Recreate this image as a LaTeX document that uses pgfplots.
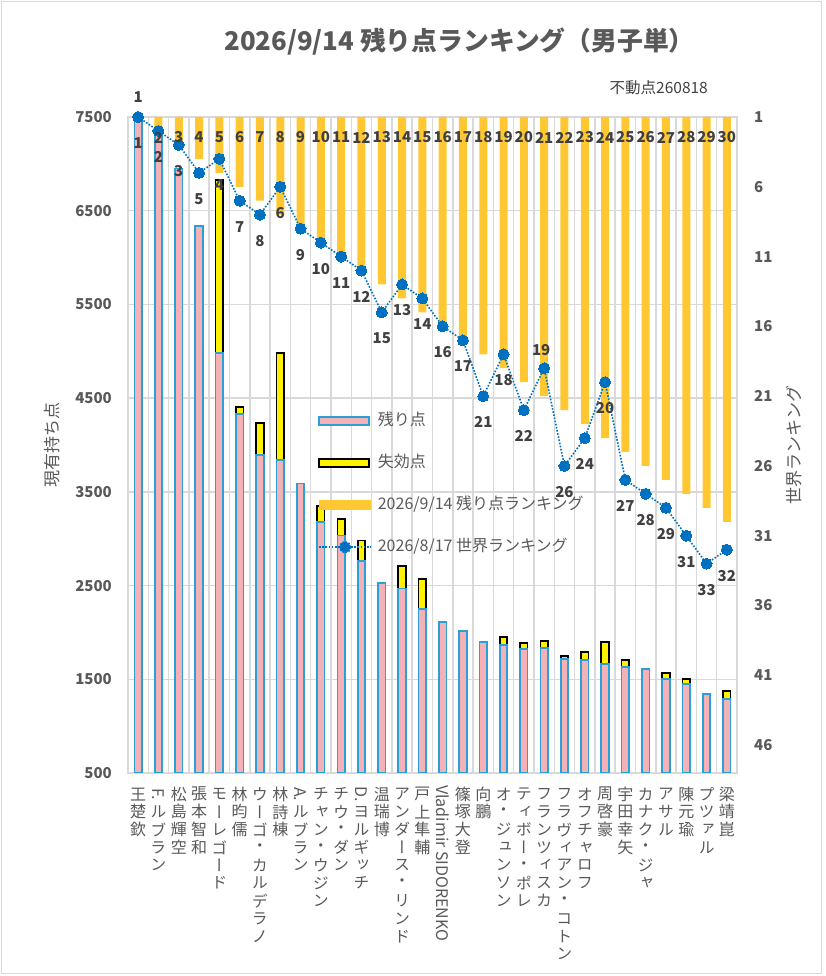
\documentclass[border=0pt]{standalone}
\usepackage{fontspec}
\usepackage{graphicx}
\usepackage{pgfplots}
\pgfplotsset{compat=1.18}
\usepackage{pgfplotstable}
\setmainfont{Noto Sans CJK JP}
\newfontfamily\vjp[RawFeature=+vert]{Noto Sans CJK JP}
\newcommand\fs[1]{\fontsize{#1}{#1}\selectfont}

\definecolor{gridc}{HTML}{D9D9D9}
\definecolor{txt}{HTML}{595959}
\definecolor{lab}{HTML}{404040}
\definecolor{pinkc}{HTML}{F4B1B6}
\definecolor{bluec}{HTML}{2B9FD9}
\definecolor{orangec}{HTML}{FFC832}
\definecolor{dotc}{HTML}{0070C0}

% vertical (tategaki) tick labels
\makeatletter
\def\vtend{\vtend@}
\newcommand\vc[1]{\setbox0\hbox{#1}\dimen0=\ht0 \advance\dimen0 by \dp0
  \ifdim\dimen0>17.8pt \hbox to 18pt{\hss\box0\hss}%
  \else\hbox to 18pt{\hss\vbox to 17.8pt{\vss\box0\vss}\hss}\fi}
\def\vt#1{\def\vt@tmp{#1}\ifx\vt@tmp\vtend\else\vc{#1}\expandafter\vt\fi}
\newcommand\vlab[1]{\vbox{\offinterlineskip\vjp\fs{16}\vt#1\vtend@}}
\makeatother
\newcommand\rl[1]{\rotatebox[origin=c]{-90}{#1}}

% players without lost points
\pgfplotstableread{
x pink
1 7490
2 7350
3 6950
4 6340
9 3590
13 2530
16 2110
17 2015
18 1900
26 1610
29 1343
}\tblA

% players with lost points (remaining, lost)
\pgfplotstableread{
x pink loss
5 4980 1850
6 4330 75
7 3890 344
8 3840 1141
10 3180 170
11 3035 175
12 2760 220
14 2470 238
15 2250 320
19 1866 85
20 1823 64
21 1834 75
22 1716 32
23 1705 85
24 1662 236
25 1631 74
27 1503 64
28 1450 53
30 1290 85
}\tblB

% x, remaining-points ranking, world ranking, label offsets
\pgfplotstableread{
x r w ly dx dy
1 1 1 -0.43 0 -26
2 2 2 2.47 0 -26
3 3 3 2.47 0 -26
4 4 5 2.47 0 -26
5 5 4 2.47 0 -26
6 6 7 2.47 0 -26
7 7 8 2.47 0 -26
8 8 6 2.47 0 -26
9 9 9 2.47 0 -26
10 10 10 2.47 0 -26
11 11 11 2.47 0 -26
12 12 12 2.47 0 -26
13 13 15 2.47 0 -26
14 14 13 2.47 0 -26
15 15 14 2.47 0 -26
16 16 16 2.47 0 -26
17 17 17 2.47 0 -26
18 18 21 2.47 0 -26
19 19 18 2.47 0 -26
20 20 22 2.47 0 -26
21 21 19 2.47 -3 18
22 22 26 2.47 0 -26
23 23 24 2.47 0 -26
24 24 20 2.47 0 -26
25 25 27 2.47 0 -26
26 26 28 2.47 0 -26
27 27 29 2.47 0 -26
28 28 31 2.47 0 -26
29 29 33 2.47 0 -26
30 30 32 2.47 0 -26
}\tblC

\pgfplotsset{base/.style={width=609pt, height=656pt, scale only axis,
  at={(128pt,203pt)}, anchor=south west, xmin=0.5, xmax=30.5,
  /pgf/number format/assume math mode=true,
  /pgf/number format/1000 sep={}, scaled y ticks=false}}

\begin{document}
\begin{tikzpicture}[x=1pt,y=1pt]
\useasboundingbox (0,0) rectangle (826,976);
\draw[gridc, line width=1.3pt] (1.5,2.5) rectangle (821.5,974.5);

% primary axis: grid, ticks, players without lost points
\begin{axis}[base, ymin=500, ymax=7500,
  axis line style={gridc, line width=1.5pt},
  ytick={500,1500,...,7500},
  xtick={1,...,30},
  minor xtick={0.5,1.5,...,30.5},
  xminorgrids=true, ymajorgrids=true,
  grid style={gridc, line width=1.5pt},
  minor grid style={gridc, line width=1.5pt},
  major tick length=0pt, minor tick length=0pt,
  tick style={draw=none},
  yticklabel style={font=\bfseries\fs{15}, text=txt, inner sep=0pt, anchor=east, xshift=-16pt},
  xticklabel style={inner sep=0pt, anchor=north, yshift=-12pt, text=txt},
  xticklabels={
    \vlab{王楚欽},
    \vlab{{\rl{F.}}ルブラン},
    \vlab{松島輝空},
    \vlab{張本智和},
    \vlab{モーレゴード},
    \vlab{林昀儒},
    \vlab{ウーゴ・カルデラノ},
    \vlab{林詩棟},
    \vlab{{\rl{A.}}ルブラン},
    \vlab{チャン・ウジン},
    \vlab{チウ・ダン},
    \vlab{{\rl{D.}}ヨルギッチ},
    \vlab{温瑞博},
    \vlab{アンダース・リンド},
    \vlab{戸上隼輔},
    \vlab{{\rl{Vladimir SIDORENKO}}},
    \vlab{篠塚大登},
    \vlab{向鵬},
    \vlab{オ・ジュンソン},
    \vlab{ティボー・ポレ},
    \vlab{フランツィスカ},
    \vlab{フラヴィアン・コトン},
    \vlab{オフチャロフ},
    \vlab{周啓豪},
    \vlab{宇田幸矢},
    \vlab{カナク・ジャ},
    \vlab{アサル},
    \vlab{陳元瑜},
    \vlab{プツァル},
    \vlab{梁靖崑}},
]
\addplot[ybar, bar width=7.5pt, bar shift=0pt, fill=pinkc, draw=bluec, line width=1.7pt]
  table[x=x, y=pink] {\tblA};
\end{axis}

% primary axis overlay: stacked remaining + lost points
\begin{axis}[base, ymin=500, ymax=7500, hide axis, ybar stacked, bar width=7.5pt]
\addplot[fill=pinkc, draw=bluec, line width=1.7pt] table[x=x, y=pink] {\tblB};
\addplot[fill=yellow, draw=black, line width=1.7pt] table[x=x, y=loss] {\tblB};
\end{axis}

% secondary axis: rankings
\begin{axis}[base, ymin=1, ymax=48, y dir=reverse,
  axis x line=none, axis y line*=right,
  y axis line style={draw=none},
  ytick={1,6,...,46},
  major tick length=0pt, tick style={draw=none},
  yticklabel style={font=\bfseries\fs{15}, text=txt, inner sep=0pt, anchor=west, xshift=17pt},
  legend cell align=left,
  legend style={at={(0.312,0.5488)}, anchor=north west, draw=none, fill=none,
    inner sep=0pt, font=\fs{16}, text=txt, row sep=26pt,
    nodes={inner sep=0pt, text height=12pt, text depth=4pt},
    /tikz/every odd column/.append style={column sep=6pt}},
]
\addlegendimage{legend image code/.code={\draw[fill=pinkc, draw=bluec, line width=1.7pt] (0pt,-4pt) rectangle (50pt,4pt);}}
\addlegendentry{残り点}
\addlegendimage{legend image code/.code={\draw[fill=yellow, draw=black, line width=1.7pt] (0pt,-4pt) rectangle (50pt,4pt);}}
\addlegendentry{失効点}
\addplot[ybar, bar width=8pt, bar shift=0pt, fill=orangec, draw=none,
  legend image code/.code={\fill[orangec] (0pt,-5pt) rectangle (52pt,5pt);}]
  table[x=x, y=r] {\tblC};
\addlegendentry{2026/9/14 残り点ランキング}
\addplot[dotc, line width=1.6pt, dash pattern=on 1.6pt off 1.6pt,
  mark=*, mark size=5.5pt, mark options={solid, fill=dotc, draw=dotc, line width=0pt},
  nodes near coords, point meta=explicit,
  visualization depends on={\thisrow{dx}\as\ldx},
  visualization depends on={\thisrow{dy}\as\ldy},
  every node near coord/.append style={anchor=center, font=\bfseries\fs{15}, text=lab,
    inner sep=0pt, xshift=\ldx pt, yshift=\ldy pt},
  legend image code/.code={\draw[dotc, line width=1.6pt, dash pattern=on 1.6pt off 1.6pt] (0pt,0pt) -- (52pt,0pt); \fill[dotc] (26pt,0pt) circle (5.5pt);}]
  table[x=x, y=w, meta=w] {\tblC};
\addlegendentry{2026/8/17 世界ランキング}
\end{axis}

% labels of the remaining-points ranking bars (unclipped)
\begin{axis}[base, ymin=1, ymax=48, y dir=reverse, hide axis, clip=false]
\addplot[draw=none, mark=none, nodes near coords, point meta=explicit,
  every node near coord/.append style={anchor=center, font=\bfseries\fs{15}, text=lab, inner sep=0pt}]
  table[x=x, y=ly, meta=r] {\tblC};
\end{axis}

\node[text=txt, font=\bfseries\fs{25.8}, inner sep=0pt] at (459.5,934) {2026/9/14 残り点ランキング（男子単）};
\node[text=black!75, font=\fs{15.5}, inner sep=0pt, anchor=east] at (708,888) {不動点260818};
\node[text=txt, font=\fs{17}, inner sep=0pt, rotate=90] at (52,531) {現有持ち点};
\node[text=txt, font=\fs{17}, inner sep=0pt, rotate=90] at (794,531) {世界ランキング};
\end{tikzpicture}
\end{document}
